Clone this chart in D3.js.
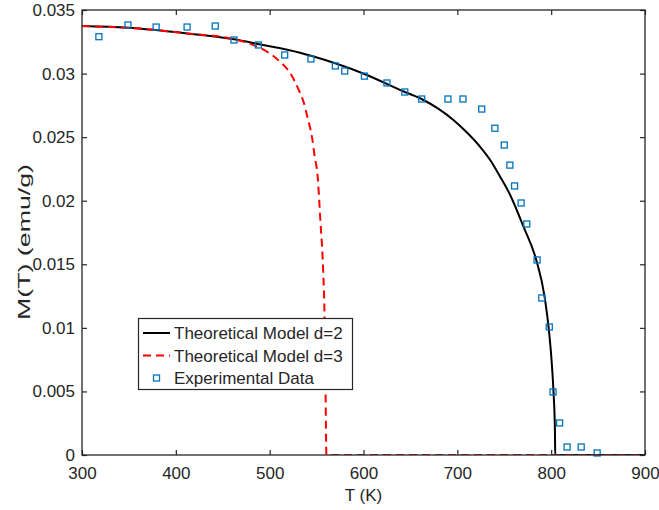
<!DOCTYPE html>
<html>
<head>
<meta charset="utf-8">
<script src="https://cdn.jsdelivr.net/npm/d3@7"></script>
<style>
	body { margin: 0; background: #fff; }
	svg text { font-family: "Liberation Sans", Arial, Helvetica, sans-serif; fill: #262626; }
</style>
</head>
<body>
<script>
"use strict";

// Theoretical model d=2
let modelD2T = [300, 349, 412, 462, 487.6, 532.4, 544.1, 601, 644, 662.4, 680, 695.8, 710, 724.3, 735, 745.6, 756.3, 770.5, 784.1, 792.7, 797.2, 800.4, 802.5, 804, 804.3, 900];
let modelD2M = [0.03374, 0.0336, 0.03316, 0.0327, 0.03233, 0.03164, 0.0314, 0.02997, 0.02855, 0.02798, 0.02722, 0.02635, 0.02538, 0.02424, 0.0232, 0.02189, 0.02045, 0.01796, 0.01534, 0.01258, 0.01007, 0.00747, 0.00496, 0.00197, 0, 0];

// Theoretical model d=3
let modelD3T = [300, 349, 412, 462, 487, 500, 511, 522, 531, 536, 541, 545, 548, 551, 554, 557, 558.5, 559.5, 560.5, 900];
let modelD3M = [0.03374, 0.0336, 0.03316, 0.0327, 0.03211, 0.03159, 0.03093, 0.03002, 0.02871, 0.02779, 0.02635, 0.02504, 0.02346, 0.02202, 0.01848, 0.01455, 0.01088, 0.0054, 0, 0];

// Experimental data
let expT = [318, 349, 379, 412, 442, 462, 488, 516, 544, 570, 580, 601, 625, 644, 662, 690, 706, 726, 740, 750, 756, 761, 768, 774, 785, 790, 798, 802, 809, 817, 832, 849];
let expM = [0.0329, 0.03382, 0.03366, 0.03366, 0.03374, 0.03264, 0.03225, 0.03146, 0.03115, 0.0306, 0.0302, 0.0298, 0.02926, 0.02855, 0.028, 0.028, 0.028, 0.02721, 0.0257, 0.02438, 0.0228, 0.02116, 0.01982, 0.01817, 0.01534, 0.01235, 0.01007, 0.00496, 0.00252, 0.00063, 0.00063, 0.00016];

let xTicks = [300, 400, 500, 600, 700, 800, 900];
let yTicks = [0, 0.005, 0.01, 0.015, 0.02, 0.025, 0.03, 0.035];
let legendLabels = ["Theoretical Model d=2", "Theoretical Model d=3", "Experimental Data"];

let width = 659,
	height = 510;

let plotLeft = 82,
	plotRight = 645,
	plotTop = 10,
	plotBottom = 455;

let axisColor = "#262626",
	markerColor = "#0072bd";

let svg = d3.select("body")
	.append("svg")
		.attr("width", width)
		.attr("height", height);

let xScale = d3.scaleLinear()
	.domain([300, 900])
	.range([plotLeft, plotRight]);

let yScale = d3.scaleLinear()
	.domain([0, 0.035])
	.range([plotBottom, plotTop]);

function zip (xs, ys) {
	return xs.map(function (x, i) { return [x, ys[i]]; });
}

let line = d3.line()
	.x(function (d) { return xScale(d[0]); })
	.y(function (d) { return yScale(d[1]); })
	.curve(d3.curveMonotoneX);

// clip to the axes box
svg.append("clipPath")
	.attr("id", "plotClip")
	.append("rect")
		.attr("x", plotLeft)
		.attr("y", plotTop)
		.attr("width", plotRight - plotLeft)
		.attr("height", plotBottom - plotTop);

let plotGroup = svg.append("g").attr("clip-path", "url(#plotClip)");

plotGroup.append("path")
	.datum(zip(modelD2T, modelD2M))
	.attr("d", line)
	.attr("fill", "none")
	.attr("stroke", "#000")
	.attr("stroke-width", 2);

plotGroup.append("path")
	.datum(zip(modelD3T, modelD3M))
	.attr("d", line)
	.attr("fill", "none")
	.attr("stroke", "#ff0000")
	.attr("stroke-width", 2)
	.attr("stroke-dasharray", "8,5");

let markerSize = 6;

svg.append("g")
	.selectAll("rect")
	.data(zip(expT, expM))
	.enter()
	.append("rect")
		.attr("x", function (d) { return xScale(d[0]) - markerSize / 2; })
		.attr("y", function (d) { return yScale(d[1]) - markerSize / 2; })
		.attr("width", markerSize)
		.attr("height", markerSize)
		.attr("fill", "none")
		.attr("stroke", markerColor)
		.attr("stroke-width", 1.3);

// Axes (ticks point inward, box on)

let xAxisBottom = svg.append("g")
	.attr("transform", "translate(0," + plotBottom + ")")
	.call(d3.axisBottom(xScale).tickValues(xTicks).tickSize(-5).tickPadding(12).tickFormat(d3.format("d")));

let xAxisTop = svg.append("g")
	.attr("transform", "translate(0," + plotTop + ")")
	.call(d3.axisTop(xScale).tickValues(xTicks).tickSize(-5).tickFormat(""));

let yAxisLeft = svg.append("g")
	.attr("transform", "translate(" + plotLeft + ",0)")
	.call(d3.axisLeft(yScale).tickValues(yTicks).tickSize(-5).tickPadding(7).tickFormat(function (d) { return d === 0 ? "0" : String(+d.toFixed(3)); }));

let yAxisRight = svg.append("g")
	.attr("transform", "translate(" + plotRight + ",0)")
	.call(d3.axisRight(yScale).tickValues(yTicks).tickSize(-5).tickFormat(""));

[xAxisBottom, xAxisTop, yAxisLeft, yAxisRight].forEach(function (ax) {
	ax.select(".domain").remove();
	ax.selectAll("line").attr("stroke", axisColor).attr("stroke-width", 1.2);
	ax.selectAll("text")
		.style("font-size", "17px")
		.attr("fill", axisColor);
});

svg.append("rect")
	.attr("x", plotLeft)
	.attr("y", plotTop)
	.attr("width", plotRight - plotLeft)
	.attr("height", plotBottom - plotTop)
	.attr("fill", "none")
	.attr("stroke", axisColor)
	.attr("stroke-width", 1.3);

// Axis labels

svg.append("text")
	.attr("x", (plotLeft + plotRight) / 2)
	.attr("y", 501)
	.attr("text-anchor", "middle")
	.style("font-size", "17px")
	.text("T (K)");

svg.append("text")
	.attr("transform", "translate(30,242) rotate(-90)")
	.attr("text-anchor", "middle")
	.attr("textLength", 156)
	.attr("lengthAdjust", "spacingAndGlyphs")
	.style("font-size", "17px")
	.text("M(T)  (emu/g)");

// Legend

let legend = svg.append("g");

legend.append("rect")
	.attr("x", 138.5)
	.attr("y", 318.5)
	.attr("width", 214)
	.attr("height", 71)
	.attr("fill", "#fff")
	.attr("stroke", axisColor)
	.attr("stroke-width", 1.2);

let legendRows = [333, 355.5, 378];

legend.append("line")
	.attr("x1", 143).attr("x2", 170)
	.attr("y1", legendRows[0]).attr("y2", legendRows[0])
	.attr("stroke", "#000")
	.attr("stroke-width", 2);

legend.append("line")
	.attr("x1", 143).attr("x2", 170)
	.attr("y1", legendRows[1]).attr("y2", legendRows[1])
	.attr("stroke", "#ff0000")
	.attr("stroke-width", 2)
	.attr("stroke-dasharray", "8,5");

legend.append("rect")
	.attr("x", 156.5 - markerSize / 2)
	.attr("y", legendRows[2] - markerSize / 2)
	.attr("width", markerSize)
	.attr("height", markerSize)
	.attr("fill", "none")
	.attr("stroke", markerColor)
	.attr("stroke-width", 1.3);

legend.selectAll(".legendText")
	.data(legendLabels)
	.enter()
	.append("text")
		.attr("class", "legendText")
		.attr("x", 174)
		.attr("y", function (d, i) { return legendRows[i] + 6; })
		.style("font-size", "17px")
		.text(function (d) { return d; });
</script>
</body>
</html>
